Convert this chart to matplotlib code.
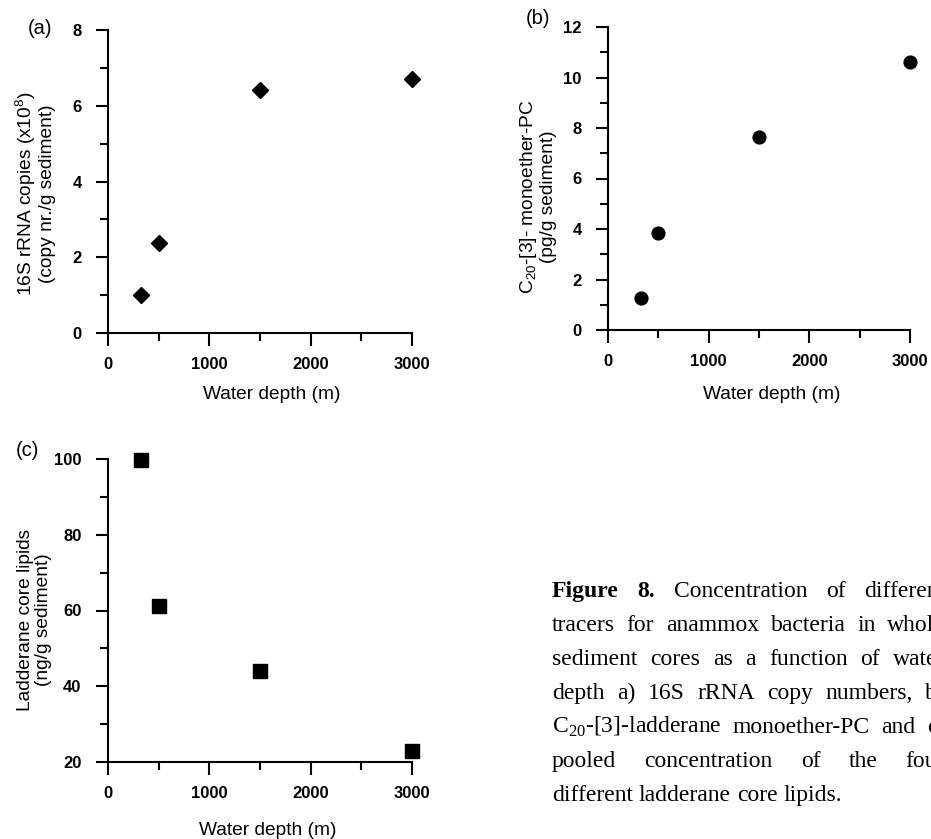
import numpy as np
import matplotlib
matplotlib.use("Agg")
import matplotlib.pyplot as plt

plt.rcParams['font.family'] = ['Liberation Sans', 'DejaVu Sans']

# data
depth = [330, 500, 1500, 3000]
rrna_copies = [1.0, 2.37, 6.42, 6.70]          # x10^8 copy nr./g sediment
monoether_pc = [1.28, 3.85, 7.65, 10.62]      # pg/g sediment
core_lipids = [99.7, 61.2, 44.0, 22.9]        # ng/g sediment

x_ticks = [0, 1000, 2000, 3000]

caption_lines = [
    [("Figure", True), ("8.", True), ("Concentration", False), ("of", False), ("different", False)],
    [("tracers", False), ("for", False), ("anammox", False), ("bacteria", False), ("in", False), ("whole", False)],
    [("sediment", False), ("cores", False), ("as", False), ("a", False), ("function", False), ("of", False), ("water", False)],
    [("depth", False), ("a)", False), ("16S", False), ("rRNA", False), ("copy", False), ("numbers,", False), ("b)", False)],
    [(r"C$_{\mathregular{20}}$-[3]-ladderane", False), ("monoether-PC", False), ("and", False), ("c)", False)],
    [("pooled", False), ("concentration", False), ("of", False), ("the", False), ("four", False)],
    [("different", False), ("ladderane", False), ("core", False), ("lipids.", False)],
]

W, H = 931, 839
fig = plt.figure(figsize=(W / 100, H / 100), dpi=100)


def make_axes(px_left, px_right, px_top, px_bottom):
    return fig.add_axes([px_left / W, 1 - px_bottom / H,
                         (px_right - px_left) / W, (px_bottom - px_top) / H])


def style(ax, ymax, ymajor, yminor):
    ax.set_xlim(0, 3000)
    ax.set_ylim(ax.get_ylim()[0], ymax)
    ax.spines['top'].set_visible(False)
    ax.spines['right'].set_visible(False)
    for s in ('left', 'bottom'):
        ax.spines[s].set_linewidth(1.5)
    ax.set_xticks(x_ticks)
    ax.set_xticks([500, 1500, 2500], minor=True)
    ax.set_yticks(ymajor)
    ax.set_yticks(yminor, minor=True)
    ax.tick_params(which='major', direction='out', length=9, width=1.5,
                   labelsize=12, pad=8.5)
    ax.tick_params(which='minor', direction='out', length=6, width=1.5)
    ax.tick_params(axis='y', pad=10)
    for lab in ax.get_xticklabels() + ax.get_yticklabels():
        lab.set_fontweight('bold')


lab_fs = 13.8

# (a)
ax1 = make_axes(108, 412, 30, 333)
ax1.set_ylim(0, 8)
ax1.plot(depth, rrna_copies, linestyle='none', marker='D', ms=8.2,
         color='black', clip_on=False)
style(ax1, 8, [0, 2, 4, 6, 8], [1, 3, 5, 7])
ax1.set_ylabel("16S rRNA copies (x10$^{\\mathregular{8}}$)\n(copy nr./g sediment)",
               fontsize=lab_fs, linespacing=1.1)
ax1.yaxis.set_label_coords(-0.171, 0.46)
ax1.set_xlabel("Water depth (m)", fontsize=lab_fs)
ax1.xaxis.set_label_coords(0.538, -0.175)
fig.text(40 / W, 1 - 28 / H, "(a)", fontsize=14.5, ha='center', va='center')

# (b)
ax2 = make_axes(608, 910, 27, 330)
ax2.set_ylim(0, 12)
ax2.plot(depth, monoether_pc, linestyle='none', marker='o', ms=9.2,
         color='black', clip_on=False)
style(ax2, 12, [0, 2, 4, 6, 8, 10, 12], [1, 3, 5, 7, 9, 11])
ax2.set_ylabel("C$_{\\mathregular{20}}$-[3]- monoether-PC\n(pg/g sediment)",
               fontsize=lab_fs, linespacing=1.1)
ax2.yaxis.set_label_coords(-0.169, 0.44)
ax2.set_xlabel("Water depth (m)", fontsize=lab_fs)
ax2.xaxis.set_label_coords(0.542, -0.185)
fig.text(538 / W, 1 - 19 / H, "(b)", fontsize=14.5, ha='center', va='center')

# (c)
ax3 = make_axes(108, 412, 459, 762)
ax3.set_ylim(20, 100)
ax3.plot(depth, core_lipids, linestyle='none', marker='s', ms=9.5,
         color='black', clip_on=False)
style(ax3, 100, [20, 40, 60, 80, 100], [30, 50, 70, 90])
ax3.set_ylabel("Ladderane core lipids\n(ng/g sediment)", fontsize=lab_fs,
               linespacing=1.1)
ax3.yaxis.set_label_coords(-0.184, 0.47)
ax3.set_xlabel("Water depth (m)", fontsize=lab_fs)
ax3.xaxis.set_label_coords(0.525, -0.198)
fig.text(27 / W, 1 - 450 / H, "(c)", fontsize=14.5, ha='center', va='center')

# caption, justified between x0 and x1 (right side runs off the page like the original)
renderer = fig.canvas.get_renderer()
x0, x1 = 552, 945
baselines = [597, 631, 665, 699, 733, 767, 801]
cap_font = ['Liberation Serif', 'DejaVu Serif']
for i, (words, yb) in enumerate(zip(caption_lines, baselines)):
    texts = []
    for w, b in words:
        t = fig.text(0, 1 - yb / H, w, fontsize=17, family=cap_font,
                     fontweight='bold' if b else 'normal', va='baseline')
        texts.append(t)
    widths = [t.get_window_extent(renderer).width for t in texts]
    if i == len(caption_lines) - 1:
        gap = 5.9
    else:
        gap = (x1 - x0 - sum(widths)) / (len(texts) - 1)
    xp = x0
    for t, wd in zip(texts, widths):
        t.set_x(xp / W)
        xp += wd + gap

fig.savefig("out.png", dpi=100)
